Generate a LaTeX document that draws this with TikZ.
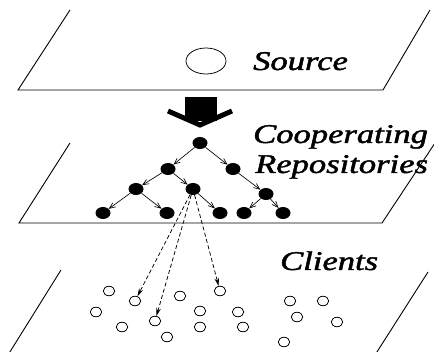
\documentclass[tikz,border=0pt]{standalone}
\usepackage{fontspec}
\newfontfamily\lblfont{Liberation Serif}[ItalicFeatures={FakeBold=1.5}]
\usetikzlibrary{shapes.geometric,arrows.meta}
\tikzset{
  plane/.style={line width=0.9pt},
  dot/.style={ellipse,fill=black,minimum width=15pt,minimum height=12pt,inner sep=0pt},
  client/.style={ellipse,draw,line width=0.75pt,minimum width=11.5pt,minimum height=9.5pt,inner sep=0pt},
  tree/.style={line width=0.65pt,-{Straight Barb[length=6pt,width=5pt]}},
  fetch/.style={line width=0.75pt,dash pattern=on 4pt off 2.5pt,-{Stealth[length=8pt,width=4.5pt]}},
  lbl/.style={anchor=base west,inner sep=0pt,font=\lblfont\itshape\fontsize{27}{30}\selectfont}
}
\newcommand{\wide}[1]{\scalebox{1.28}[1]{#1}}
\begin{document}
\begin{tikzpicture}[x=1pt,y=-1pt]
\useasboundingbox (0,0) rectangle (434,352);

% three layers, drawn as open parallelograms
\draw[plane] (70,10) -- (18,90) -- (383,90) -- (430,10);
\draw[plane] (70,143) -- (19,223) -- (382,223) -- (435,143);
\draw[plane] (61,270) -- (8,355) -- (375,355) -- (428,272);

% source
\node[ellipse,draw,line width=0.75pt,minimum width=40pt,minimum height=26pt,inner sep=0pt] (src) at (206,61) {};
\node[lbl] (srclbl) at (253,70) {\wide{Source}};

% big arrow feeding the repositories
\fill (185,97) rectangle (217,121);
\draw[line width=5pt,miter limit=10] (168,111) -- (200,125) -- (232,111);

\node[lbl] (coop) at (253,143) {\wide{Cooperating}};
\node[lbl] (repo) at (255,173) {\wide{Repositories}};
\node[lbl] (cli) at (280,270) {\wide{Clients}};

% repository tree
\node[dot] (r)  at (200,143) {};
\node[dot] (a)  at (168,169) {};
\node[dot] (b)  at (233,169) {};
\node[dot] (c)  at (136,189) {};
\node[dot] (d)  at (193,189) {};
\node[dot] (e)  at (266,194) {};
\node[dot] (f1) at (103,213) {};
\node[dot] (f2) at (167,213) {};
\node[dot] (f3) at (220,213) {};
\node[dot] (f4) at (244,213) {};
\node[dot] (f5) at (283,213) {};

\draw[tree] (r) -- (a);
\draw[tree] (r) -- (b);
\draw[tree] (a) -- (c);
\draw[tree] (a) -- (d);
\draw[tree] (b) -- (e);
\draw[tree] (c) -- (f1);
\draw[tree] (c) -- (f2);
\draw[tree] (d) -- (f3);
\draw[tree] (e) -- (f4);
\draw[tree] (e) -- (f5);

% clients
\node[client] (k1)  at (109,291) {};
\node[client] (k2)  at (135,301) {};
\node[client] (k3)  at (180,296) {};
\node[client] (k4)  at (220,291) {};
\node[client] (k5)  at (96,312) {};
\node[client] (k6)  at (155,321) {};
\node[client] (k7)  at (200,311) {};
\node[client] (k8)  at (238,312) {};
\node[client] (k9)  at (122,327) {};
\node[client] (k10) at (200,327) {};
\node[client] (k11) at (243,327) {};
\node[client] (k12) at (167,337) {};
\node[client] (k13) at (290,301) {};
\node[client] (k14) at (323,301) {};
\node[client] (k15) at (297,317) {};
\node[client] (k16) at (337,322) {};
\node[client] (k17) at (284,342) {};

% requests served by one repository
\draw[fetch] (d) -- (k2);
\draw[fetch] (d) -- (k6);
\draw[fetch] (d) -- (k4);
\end{tikzpicture}
\end{document}
